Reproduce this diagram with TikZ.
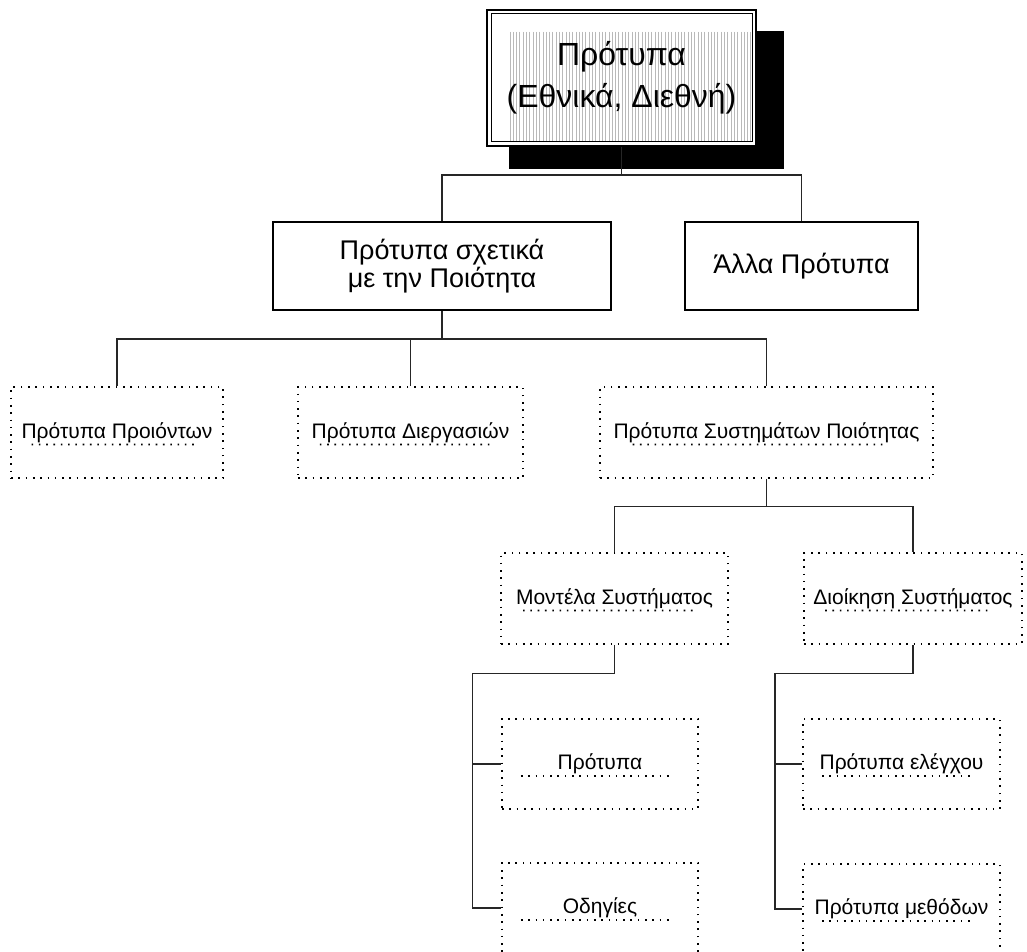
\documentclass[tikz,border=0pt]{standalone}
\usepackage{fontspec}
\setmainfont{Liberation Sans}
\usetikzlibrary{calc}
\pgfdeclarelayer{background}
\pgfsetlayers{background,main}
\tikzset{
  conn/.style={draw=black!85, line width=1.1pt},
  solidbox/.style={draw, line width=2pt, fill=white, align=center, inner sep=0pt,
    minimum height=88pt, font=\fontsize{27}{28}\selectfont},
  dotbox/.style={draw, line width=1.6pt, dash pattern=on 1.6pt off 5.7pt, inner sep=0pt,
    minimum height=91pt, font=\fontsize{21}{24}\selectfont},
  dotline/.style={line width=1.6pt, dash pattern=on 1.6pt off 5.7pt},
  headbox/.style={draw, line width=2pt, inner sep=0pt, align=center,
    minimum width=269pt, minimum height=136pt, font=\fontsize{32}{42}\selectfont},
  stripe/.style={draw=gray!55, line width=0.9pt}
}
% dotted rule under the label of a dotted box
\newcommand\boxrule[1]{\draw[dotline] ($(#1.west)!0.1!(#1.east)+(0,12)$) -- ($(#1.west)!0.86!(#1.east)+(0,12)$);}
\begin{document}
\begin{tikzpicture}[x=1pt,y=-1pt]
\useasboundingbox (0,0) rectangle (1027,952);

% head box
\node[headbox] (top) at (621.5,78) {Πρότυπα\\(Εθνικά, Διεθνή)};
\begin{pgfonlayer}{background}
  \fill[black] ([shift={(23,22)}]top.north west) rectangle ([shift={(27,22)}]top.south east);
  \fill[white] (top.north west) rectangle (top.south east);
  \foreach \i in {0,...,73} \draw[stripe] (510+\i*3.3,32) -- (510+\i*3.3,141);
\end{pgfonlayer}
\draw[line width=1pt] ([shift={(5,5)}]top.north west) rectangle ([shift={(-5,-5)}]top.south east);

% second level
\node[solidbox, minimum width=338pt] (qual) at (442,266) {Πρότυπα σχετικά\\με την Ποιότητα};
\node[solidbox, minimum width=233pt] (other) at (801.5,266) {Άλλα Πρότυπα};

% third level
\node[dotbox, minimum width=212pt] (prod) at (117,432.5) {Πρότυπα Προιόντων};
\node[dotbox, minimum width=225pt] (proc) at (410.5,432.5) {Πρότυπα Διεργασιών};
\node[dotbox, minimum width=333pt] (qms) at (766.5,432.5) {Πρότυπα Συστημάτων Ποιότητας};

% fourth level
\node[dotbox, minimum width=227pt] (model) at (614.5,598.5) {Μοντέλα Συστήματος};
\node[dotbox, minimum width=218pt] (mgmt) at (913,598.5) {Διοίκηση Συστήματος};

% leaves
\node[dotbox, minimum width=196pt, minimum height=90pt] (std) at (600,764) {Πρότυπα};
\node[dotbox, minimum width=196pt, minimum height=90pt] (guide) at (600,908) {Οδηγίες};
\node[dotbox, minimum width=197pt, minimum height=90pt] (ctrl) at (901.5,764) {Πρότυπα ελέγχου};
\node[dotbox, minimum width=197pt, minimum height=90pt] (meth) at (901.5,909) {Πρότυπα μεθόδων};

\foreach \n in {prod,proc,qms,model,mgmt,std,guide,ctrl,meth} {\boxrule{\n}}

% connectors
\draw[conn] (top.south) -- ++(0,28) coordinate (j1);
\draw[conn] (qual.north) |- (j1) -| (other.north);

\draw[conn] (qual.south) -- ++(0,28) coordinate (j2);
\draw[conn] (prod.north) |- (j2) -| (qms.north);
\draw[conn] (proc.north) -- (proc.north |- j2);

\draw[conn] (qms.south) -- ++(0,28) coordinate (j3);
\draw[conn] (model.north) |- (j3) -| (mgmt.north);

\draw[conn] (model.south) -- ++(0,29) coordinate (j4);
\coordinate (k4) at ([xshift=-142pt]j4);
\draw[conn] (j4) -- (k4) |- (guide.west);
\draw[conn] (std.west -| k4) -- (std.west);

\draw[conn] (mgmt.south) -- ++(0,29) coordinate (j5);
\coordinate (k5) at ([xshift=-138pt]j5);
\draw[conn] (j5) -- (k5) |- (meth.west);
\draw[conn] (ctrl.west -| k5) -- (ctrl.west);
\end{tikzpicture}
\end{document}
